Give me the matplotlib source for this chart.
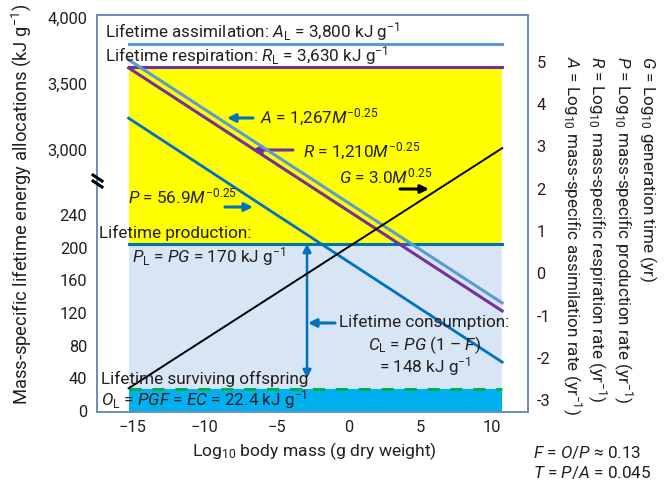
import numpy as np
import matplotlib
matplotlib.use("Agg")
import matplotlib.pyplot as plt
from matplotlib.lines import Line2D

plt.rcParams['font.family'] = ['Roboto', 'DejaVu Sans']
plt.rcParams['mathtext.fontset'] = 'custom'
plt.rcParams['mathtext.rm'] = 'Roboto'
plt.rcParams['mathtext.it'] = 'Roboto:italic'
plt.rcParams['mathtext.bf'] = 'Roboto:bold'

# body mass range of the data (log10 g dry weight)
log_mass = [-15.3, 10.7]

# log10 rates (right axis), read at the two ends of the mass range
log_A = [5.05, -0.70]
log_R = [4.86, -0.89]
log_P = [3.67, -2.10]
log_G = [-2.72, 2.96]

# lifetime allocations (left axis, kJ/g) as drawn
life_A = 3800
life_R = 3630
life_P = 205
life_O = 27

# consumption arrow
cons_x = -2.88
cons_bottom = 40

left_ticks = [0, 40, 80, 120, 160, 200, 240, 3000, 3500, 4000]
right_ticks = [-3, -2, -1, 0, 1, 2, 3, 4, 5]
x_ticks = [-15, -10, -5, 0, 5, 10]

W, H = 664, 484
TXT = '#231f20'
FRAME = '#6b8cba'
FS = 12.3

# broken left axis: two linear pieces joined at the break
lo_end, hi_start = 276, 2738
lo_k, hi_k = 0.8167, 0.132
bv = np.array([-100, lo_end, hi_start, 5000], dtype=float)
bf = np.array([-100 * lo_k, lo_end * lo_k, lo_end * lo_k + 1,
               lo_end * lo_k + 1 + (5000 - hi_start) * hi_k])


def fwd(v):
    return np.interp(v, bv, bf)


def inv(f):
    return np.interp(f, bf, bv)


fig = plt.figure(figsize=(W / 100, H / 100), dpi=100)
ax = fig.add_axes([97 / W, 1 - 412 / H, 431 / W, 397 / H])
ax.set_yscale('function', functions=(fwd, inv))
ax.set_xlim(-17.5, 12.5)
ax.set_ylim(-1.2, 4023)

# coloured bands
ax.fill_between(log_mass, life_P, life_R, color='#ffff00', lw=0, zorder=1)
ax.fill_between(log_mass, life_O, life_P, color='#d8e5f5', lw=0, zorder=1)
ax.fill_between(log_mass, 0, life_O, color='#00b0f0', lw=0, zorder=1)

# lifetime levels
ax.plot(log_mass, [life_A] * 2, color='#5b9bd5', lw=2.2, zorder=3)
ax.plot(log_mass, [life_R] * 2, color='#7030a0', lw=2.2, zorder=3)
ax.plot(log_mass, [life_P] * 2, color='#0070c0', lw=2.2, zorder=3)
ax.plot(log_mass, [life_O] * 2, color='#00b050', lw=2.2, ls=(0, (4, 3.5)), zorder=3)

ax.annotate('', xy=(cons_x, life_P), xytext=(cons_x, cons_bottom),
            arrowprops=dict(arrowstyle='<|-|>', color='#0070c0', lw=1.8,
                            mutation_scale=12, shrinkA=0, shrinkB=0), zorder=4)

ax.set_yticks(left_ticks)
ax.set_yticklabels([f'{t:,}' for t in left_ticks])
ax.set_xticks(x_ticks)
ax.set_xticklabels([f'\u2212{abs(t)}' if t < 0 else str(t) for t in x_ticks])
ax.tick_params(axis='y', length=0, pad=7, labelsize=11.8, labelcolor=TXT)
ax.tick_params(axis='x', length=0, pad=6, labelsize=11.8, labelcolor=TXT)
for s in ax.spines.values():
    s.set_color(FRAME)
    s.set_linewidth(1.2)

# log10 rate lines on the right axis
ax2 = ax.twinx()
ax2.set_ylim(-3.28, 6.11)
ax2.plot(log_mass, log_A, color='#5b9bd5', lw=2.2)
ax2.plot(log_mass, log_R, color='#7030a0', lw=2.2)
ax2.plot(log_mass, log_P, color='#0070c0', lw=2.0)
ax2.plot(log_mass, log_G, color='black', lw=1.4)
ax2.set_yticks(right_ticks)
ax2.set_yticklabels([str(t) for t in right_ticks])
ax2.tick_params(axis='y', length=0, pad=6, labelsize=11.8, labelcolor=TXT)
for s in ax2.spines.values():
    s.set_color(FRAME)
    s.set_linewidth(1.2)

# break marks on the left spine
for dy in (-3, 3):
    fig.add_artist(Line2D([93 / W, 102 / W],
                          [1 - (178 + dy) / H, 1 - (184 + dy) / H],
                          color='black', lw=2.2))


def put(x, y, s, **kw):
    kw.setdefault('fontsize', FS)
    kw.setdefault('color', TXT)
    kw.setdefault('va', 'baseline')
    fig.text(x / W, 1 - y / H, s, **kw)


def arrow(x0, y0, x1, y1, c):
    ax.annotate('', xy=(x1, H - y1), xytext=(x0, H - y0), xycoords='figure pixels',
                arrowprops=dict(arrowstyle='-|>', color=c, lw=2.2,
                                mutation_scale=12, shrinkA=0, shrinkB=0))


put(105, 37, r'Lifetime assimilation: $A_\mathrm{L}$ = 3,800 kJ g$^{-1}$')
put(105, 61, r'Lifetime respiration: $R_\mathrm{L}$ = 3,630 kJ g$^{-1}$')
put(260, 123, r'$A$ = 1,267$M^{-0.25}$')
put(303, 157, r'$R$ = 1,210$M^{-0.25}$')
put(339, 183, r'$G$ = 3.0$M^{0.25}$')
put(128, 203, r'$P$ = 56.9$M^{-0.25}$')
put(99, 238, 'Lifetime production:')
put(132, 262, r'$P_\mathrm{L}$ = $PG$ = 170 kJ g$^{-1}$')
put(101, 384, 'Lifetime surviving offspring')
put(101, 405, r'$O_\mathrm{L}$ = $PGF$ = $EC$ = 22.4 kJ g$^{-1}$')
put(339, 327, 'Lifetime consumption:')
put(424, 350, r'$C_\mathrm{L}$ = $PG$ (1 – $F$)', ha='center')
put(425, 372, r'= 148 kJ g$^{-1}$', ha='center')

arrow(253, 118, 227, 118, '#0070c0')
arrow(293, 150, 252, 150, '#7030a0')
arrow(225, 207, 253, 207, '#0070c0')
arrow(400, 189, 429, 189, 'black')
arrow(335, 323, 308, 323, '#0070c0')

put(21, 204, r'Mass-specific lifetime energy allocations (kJ g$^{-1}$)',
    rotation=90, ha='center', va='center', fontsize=13.2)
put(314, 451, r'Log$_{10}$ body mass (g dry weight)', ha='center', va='center',
    fontsize=12.6)

right_labels = [
    r'$G$ = Log$_{10}$ generation time (yr)',
    r'$P$ = Log$_{10}$ mass-specific production rate (yr$^{-1}$)',
    r'$R$ = Log$_{10}$ mass-specific respiration rate (yr$^{-1}$)',
    r'$A$ = Log$_{10}$ mass-specific assimilation rate (yr$^{-1}$)',
]
for i, s in enumerate(right_labels):
    put(648 - 25.5 * i, 56, s, rotation=-90, ha='center', va='top')

put(533, 458, r'$F$ = $O$/$P$ ≈ 0.13')
put(533, 478, r'$T$ = $P$/$A$ = 0.045')

fig.savefig('out.png', dpi=100)
